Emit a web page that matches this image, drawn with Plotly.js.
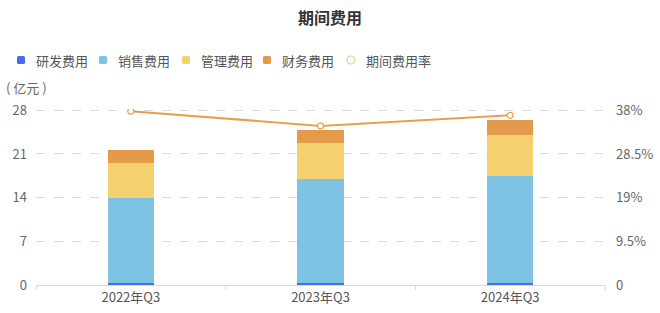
<!DOCTYPE html>
<html><head><meta charset="utf-8">
<script src="https://cdn.plot.ly/plotly-3.0.1.min.js"></script>
<style>html,body{margin:0;padding:0;background:#fff}#c{width:660px;height:313px}</style>
</head><body><div id="c"></div>
<script>
const categories = ['2022年Q3', '2023年Q3', '2024年Q3'];
const rdCost = [0.3, 0.35, 0.35];
const salesCost = [13.7, 16.65, 17.15];
const mgmtCost = [5.5, 5.8, 6.5];
const finCost = [2.2, 2.1, 2.4];
const expenseRate = [37.8, 34.6, 36.9];
const leftTicks = [0, 7, 14, 21, 28];
const rightTicks = [0, 9.5, 19, 28.5, 38];
const rightTickText = ['0', '9.5%', '19%', '28.5%', '38%'];
const seriesNames = ['研发费用', '销售费用', '管理费用', '财务费用', '期间费用率'];
const seriesColors = ['#4a6cf0', '#7ec3e3', '#f4d16e', '#e39a4b', '#e8a04e'];

const W = 660, H = 313, M = {l: 36, r: 55, t: 109, b: 28};
const PW = W - M.l - M.r, PH = H - M.t - M.b;
const px = x => (x - M.l) / PW;
const py = y => (H - M.b - y) / PH;
const yTop = 28.2, y2Top = 38 * 28.2 / 28;

const font = '"Noto Sans CJK SC", "Noto Sans", sans-serif';
const barW = 0.245;
function bar(i, y) {
  return {type: 'bar', name: seriesNames[i], x: categories, y: y, width: barW,
    marker: {color: seriesColors[i], line: {width: 0}}, hoverinfo: 'y'};
}
const data = [
  bar(0, rdCost), bar(1, salesCost), bar(2, mgmtCost), bar(3, finCost),
  {type: 'scatter', mode: 'lines+markers', name: seriesNames[4], x: categories, y: expenseRate,
   yaxis: 'y2', line: {color: seriesColors[4], width: 2},
   marker: {symbol: 'circle', size: 6, color: '#ffffff', line: {color: seriesColors[4], width: 1.2}}}
];

// custom legend (decoration)
const legendX = [17, 99, 182, 263, 347];
const legendY = 60;
const shapes = [], annotations = [];
seriesNames.forEach((n, i) => {
  const x0 = legendX[i], x1 = x0 + 8, y0 = legendY - 4, y1 = legendY + 4;
  if (i < 4) {
    const r = 1.5;
    const path = `M ${px(x0 + r)} ${py(y0)} L ${px(x1 - r)} ${py(y0)} Q ${px(x1)} ${py(y0)} ${px(x1)} ${py(y0 + r)} ` +
      `L ${px(x1)} ${py(y1 - r)} Q ${px(x1)} ${py(y1)} ${px(x1 - r)} ${py(y1)} L ${px(x0 + r)} ${py(y1)} ` +
      `Q ${px(x0)} ${py(y1)} ${px(x0)} ${py(y1 - r)} L ${px(x0)} ${py(y0 + r)} Q ${px(x0)} ${py(y0)} ${px(x0 + r)} ${py(y0)} Z`;
    shapes.push({type: 'path', xref: 'paper', yref: 'paper', path: path,
      fillcolor: seriesColors[i], line: {width: 0}});
  } else {
    shapes.push({type: 'circle', xref: 'paper', yref: 'paper', x0: px(x0), x1: px(x1), y0: py(y1), y1: py(y0),
      fillcolor: '#ffffff', line: {color: '#e9c98f', width: 1.2}});
  }
  annotations.push({text: n, xref: 'paper', yref: 'paper', x: px(x0 + 17), y: py(legendY), xanchor: 'left',
    yanchor: 'middle', showarrow: false, font: {family: font, size: 13, color: '#555'}});
});
annotations.push({text: '( 亿元 )', xref: 'paper', yref: 'paper', x: px(4), y: py(87), xanchor: 'left',
  yanchor: 'middle', showarrow: false, font: {family: font, size: 13, color: '#666'}});

const layout = {
  width: W, height: H,
  margin: M,
  paper_bgcolor: '#fff', plot_bgcolor: '#fff',
  barmode: 'stack',
  font: {family: font, color: '#666', size: 13},
  title: {text: '<b>期间费用</b>', x: 0.5, xanchor: 'center', y: 0.94, yanchor: 'middle',
    font: {family: font, size: 16, color: '#333'}},
  showlegend: false,
  xaxis: {type: 'category', showgrid: false, showline: true, linecolor: '#d9d9d9', linewidth: 1,
    ticks: 'outside', tickson: 'boundaries', ticklen: 4, tickcolor: '#d9d9d9',
    tickfont: {family: font, size: 13, color: '#555'}, zeroline: false},
  yaxis: {range: [0, yTop], tickvals: leftTicks, showgrid: true, gridcolor: '#d9d9d9', griddash: 'dash',
    gridwidth: 1, zeroline: false, showline: false, ticks: '', ticklabelstandoff: 8,
    tickfont: {family: font, size: 13, color: '#666'}},
  yaxis2: {range: [0, y2Top], tickvals: rightTicks, ticktext: rightTickText, overlaying: 'y', side: 'right',
    showgrid: false, zeroline: false, showline: false, ticks: '', ticklabelstandoff: 10,
    tickfont: {family: font, size: 13, color: '#666'}},
  shapes: shapes,
  annotations: annotations
};
Plotly.newPlot('c', data, layout, {displayModeBar: false, staticPlot: true});
</script></body></html>
